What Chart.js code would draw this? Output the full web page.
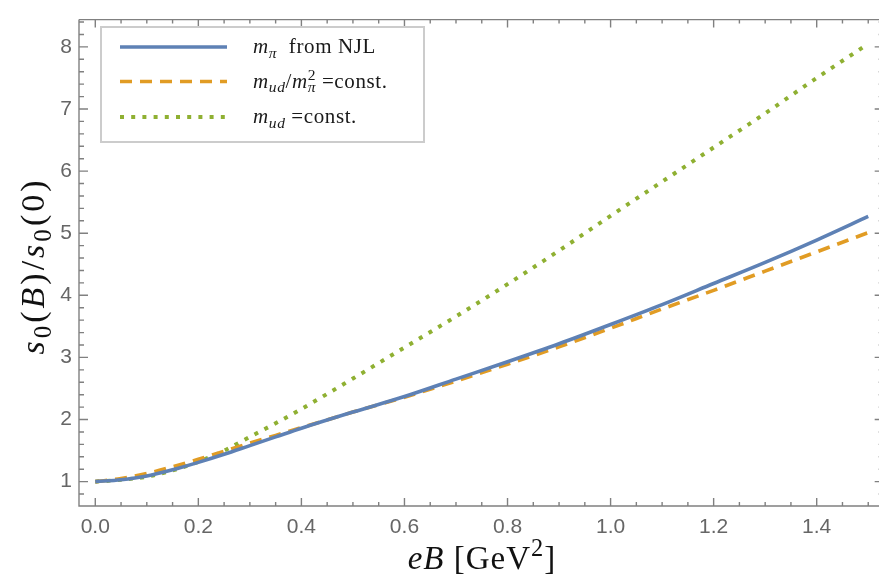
<!DOCTYPE html>
<html>
<head>
<meta charset="utf-8">
<script src="https://cdn.jsdelivr.net/npm/chart.js@4.4.1/dist/chart.umd.min.js"></script>
<style>
  html, body { margin: 0; padding: 0; background: #fff; }
  #wrap { width: 879px; height: 582px; }
</style>
</head>
<body>
<div id="wrap"><canvas id="grafica" width="879" height="582"></canvas></div>
<script>
// eB en GeV^2 y cociente s0(B)/s0(0) para cada caso
const eB = [0, 0.05, 0.1, 0.15, 0.2, 0.25, 0.3, 0.35, 0.4, 0.5, 0.6, 0.7, 0.8, 0.9, 1.0, 1.1, 1.2, 1.3, 1.4, 1.5];
const mpiNJL = [1.00, 1.03, 1.09, 1.19, 1.31, 1.44, 1.58, 1.72, 1.86, 2.12, 2.37, 2.65, 2.93, 3.22, 3.53, 3.85, 4.19, 4.53, 4.89, 5.27];
const mudSobreMpi2 = [1.00, 1.05, 1.13, 1.24, 1.36, 1.49, 1.62, 1.745, 1.87, 2.12, 2.36, 2.62, 2.89, 3.17, 3.47, 3.78, 4.08, 4.39, 4.70, 5.01];
const mudConst = [1.00, 1.03, 1.08, 1.18, 1.32, 1.50, 1.72, 1.94, 2.17, 2.66, 3.16, 3.66, 4.18, 4.72, 5.28, 5.83, 6.38, 6.93, 7.50, 8.05];

const xTicks = [0, 0.2, 0.4, 0.6, 0.8, 1.0, 1.2, 1.4];
const yTicks = [1, 2, 3, 4, 5, 6, 7, 8];

const AZUL = '#5e81b5';
const NARANJA = '#e19c24';
const VERDE = '#8fb032';
const SERIF = '"Liberation Serif", "DejaVu Serif", serif';

function puntos(ys) {
    return eB.map((x, i) => ({ x: x, y: ys[i] }));
}

// texto con cursivas, subindices y superindices
function fuenteRun(r, size) {
    const s = r.s ? size * 0.74 : size;
    return (r.i ? 'italic ' : '') + s + 'px ' + SERIF;
}

function medirRuns(ctx, runs, size) {
    let w = 0, prev = 0;
    runs.forEach(r => {
        ctx.font = fuenteRun(r, size);
        const rw = ctx.measureText(r.t).width;
        if (r.stack) { w += Math.max(0, rw - prev); prev = Math.max(rw, prev); }
        else { w += rw; prev = rw; }
    });
    return w;
}

function dibujarRuns(ctx, runs, x, y, size) {
    let cx = x, prevX = x, prevW = 0;
    runs.forEach(r => {
        ctx.font = fuenteRun(r, size);
        let dy = 0;
        if (r.s === 'sub') dy = size * 0.22;
        if (r.s === 'sup') dy = -size * 0.38;
        const rw = ctx.measureText(r.t).width;
        if (r.stack) {
            ctx.fillText(r.t, prevX, y + dy);
            cx = prevX + Math.max(rw, prevW);
        } else {
            ctx.fillText(r.t, cx, y + dy);
            prevX = cx; prevW = rw;
            cx += rw;
        }
    });
}

const tituloY = [
    { t: 's', i: true }, { t: '0', s: 'sub' }, { t: '(' }, { t: 'B', i: true }, { t: ')' }, { t: '/' },
    { t: 's', i: true }, { t: '0', s: 'sub' }, { t: '(0)' }
];
const tituloX = [{ t: 'eB', i: true }, { t: ' [GeV' }, { t: '2', s: 'sup' }, { t: ']' }];

const textosLeyenda = [
    [{ t: 'm', i: true }, { t: 'π', i: true, s: 'sub' }, { t: '  from NJL' }],
    [{ t: 'm', i: true }, { t: 'ud', i: true, s: 'sub' }, { t: '/' }, { t: 'm', i: true },
     { t: 'π', i: true, s: 'sub' }, { t: '2', s: 'sup', stack: true }, { t: ' =const.' }],
    [{ t: 'm', i: true }, { t: 'ud', i: true, s: 'sub' }, { t: ' =const.' }]
];

// marco con marcas hacia dentro, titulos y leyenda
const marcoPlugin = {
    id: 'marco',
    afterDatasetsDraw(chart) {
        const ctx = chart.ctx;
        const xs = chart.scales.x, ys = chart.scales.y;
        const area = chart.chartArea;
        const izq = area.left, der = xs.getPixelForValue(1.53);
        const arr = area.top, abj = area.bottom;

        ctx.save();
        ctx.strokeStyle = '#808080';
        ctx.lineWidth = 1.4;
        ctx.beginPath();
        ctx.moveTo(izq, arr); ctx.lineTo(izq, abj); ctx.lineTo(der, abj);
        ctx.moveTo(izq, arr); ctx.lineTo(der, arr); ctx.lineTo(der, abj);
        ctx.stroke();

        ctx.beginPath();
        for (let k = 0; k <= 30; k++) {
            const v = k * 0.05;
            const px = xs.getPixelForValue(v);
            const largo = (k % 4 === 0) ? 8 : 4;
            ctx.moveTo(px, abj); ctx.lineTo(px, abj - largo);
            ctx.moveTo(px, arr); ctx.lineTo(px, arr + largo);
        }
        for (let k = 4; k <= 42; k++) {
            const v = k * 0.2;
            const py = ys.getPixelForValue(v);
            const largo = (k % 5 === 0) ? 9 : 5;
            ctx.moveTo(izq, py); ctx.lineTo(izq + largo, py);
            ctx.moveTo(der, py); ctx.lineTo(der - largo, py);
        }
        ctx.stroke();

        // leyenda
        ctx.fillStyle = '#fff';
        ctx.fillRect(101, 27, 323, 115);
        ctx.strokeStyle = '#cccccc';
        ctx.lineWidth = 2;
        ctx.strokeRect(101, 27, 323, 115);
        const filas = [47, 81.5, 117];
        chart.data.datasets.forEach((ds, i) => {
            ctx.strokeStyle = ds.borderColor;
            ctx.lineWidth = ds.borderWidth;
            ctx.setLineDash(ds.borderDash || []);
            ctx.lineCap = 'butt';
            ctx.beginPath();
            ctx.moveTo(120, filas[i]); ctx.lineTo(227, filas[i]);
            ctx.stroke();
            ctx.setLineDash([]);
            ctx.fillStyle = '#1a1a1a';
            ctx.textBaseline = 'alphabetic';
            ctx.letterSpacing = '0.6px';
            dibujarRuns(ctx, textosLeyenda[i], 253, filas[i] + 6, 21);
        });

        // titulos de los ejes
        ctx.fillStyle = '#111';
        ctx.textBaseline = 'alphabetic';
        ctx.letterSpacing = '1px';
        const wx = medirRuns(ctx, tituloX, 33);
        dibujarRuns(ctx, tituloX, 482 - wx / 2, 569, 33);

        ctx.letterSpacing = '3px';
        ctx.translate(44, 266);
        ctx.rotate(-Math.PI / 2);
        const wy = medirRuns(ctx, tituloY, 34);
        dibujarRuns(ctx, tituloY, -wy / 2, 0, 34);
        ctx.restore();
    }
};

const ctxGrafica = document.getElementById('grafica').getContext('2d');
new Chart(ctxGrafica, {
    type: 'scatter',
    data: {
        datasets: [{
            label: 'mπ from NJL',
            data: puntos(mpiNJL),
            borderColor: AZUL,
            borderWidth: 3.6
        }, {
            label: 'mud/mπ² =const.',
            data: puntos(mudSobreMpi2),
            borderColor: NARANJA,
            borderWidth: 3.6,
            borderDash: [12, 8]
        }, {
            label: 'mud =const.',
            data: puntos(mudConst),
            borderColor: VERDE,
            borderWidth: 4,
            borderDash: [4, 7.2]
        }].map(ds => Object.assign(ds, {
            showLine: true,
            pointRadius: 0,
            fill: false,
            cubicInterpolationMode: 'monotone'
        }))
    },
    options: {
        responsive: false,
        animation: false,
        layout: { padding: { top: 7, right: 0, left: 0, bottom: 0 } },
        plugins: {
            legend: { display: false },
            tooltip: { enabled: false }
        },
        scales: {
            x: {
                type: 'linear',
                min: -0.0316,
                max: 1.5209,
                afterFit: s => { s.height = 76; },
                afterBuildTicks: s => { s.ticks = xTicks.map(v => ({ value: v })); },
                grid: { display: false, drawTicks: false },
                border: { display: false },
                ticks: {
                    padding: 9,
                    color: '#666',
                    font: { family: '"Liberation Sans", Arial, sans-serif', size: 21 },
                    callback: v => v.toFixed(1)
                }
            },
            y: {
                type: 'linear',
                min: 0.6076,
                max: 8.4395,
                afterFit: s => { s.width = 79; },
                afterBuildTicks: s => { s.ticks = yTicks.map(v => ({ value: v })); },
                grid: { display: false, drawTicks: false },
                border: { display: false },
                ticks: {
                    padding: 7,
                    color: '#666',
                    font: { family: '"Liberation Sans", Arial, sans-serif', size: 21 },
                    callback: v => String(v)
                }
            }
        }
    },
    plugins: [marcoPlugin]
});
</script>
</body>
</html>
